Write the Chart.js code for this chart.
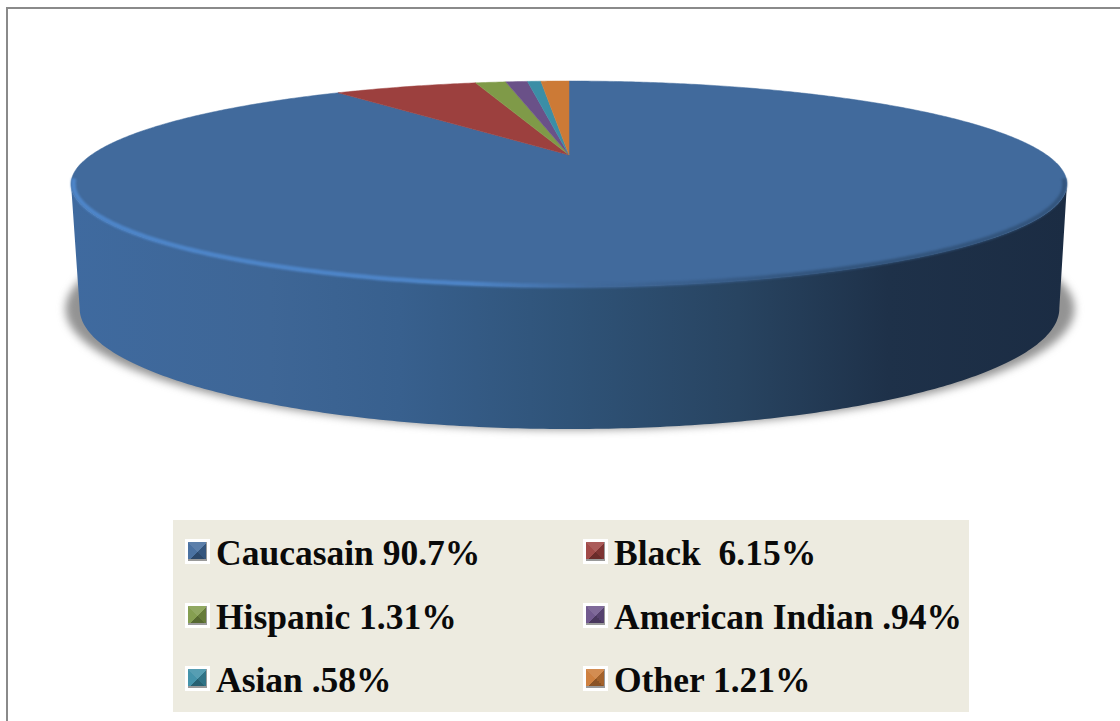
<!DOCTYPE html>
<html>
<head>
<meta charset="utf-8">
<script src="https://cdn.jsdelivr.net/npm/chart.js@4"></script>
<style>
  html, body { margin: 0; padding: 0; background: #fff; overflow: hidden; }
  #wrap { position: relative; width: 1120px; height: 721px; }
  #frame { position: absolute; left: 6px; top: 7px; width: 1114px; height: 714px; border-left: 2px solid #8a8a8a; border-top: 2px solid #8a8a8a; box-sizing: border-box; }
  #pie { position: absolute; left: 0; top: 0; }
  #legend { position: absolute; left: 173px; top: 520px; width: 796px; height: 192px; background: #edebe0; }
  .item { position: absolute; height: 40px; font: bold 35.5px "Liberation Serif", serif; color: #0a0a0a; white-space: pre; line-height: 40px; }
  .item .box { position: absolute; left: 0; top: 6px; width: 25px; height: 25px; box-sizing: border-box; border: 3px solid #fff; background-clip: padding-box; box-shadow: inset -1px -2px 0 #9a9a9a; }
  .item .txt { position: absolute; left: 31px; top: 0; }
</style>
</head>
<body>
<div id="wrap">
  <div id="frame"></div>
  <canvas id="pie" width="1120" height="721"></canvas>
  <div id="legend"></div>
</div>
<script>
// Datos
const categories = ['Caucasain', 'Black', 'Hispanic', 'American Indian', 'Asian', 'Other'];
const values = [90.7, 6.15, 1.31, 0.94, 0.58, 1.21];
const legendLabels = ['Caucasain 90.7%', 'Black  6.15%', 'Hispanic 1.31%', 'American Indian .94%', 'Asian .58%', 'Other 1.21%'];
const colors = ['#416a9c', '#9c403e', '#7f9a48', '#6a5188', '#3b8ea6', '#cc7a36'];

// Perspectiva del disco: p inclina el círculo, la cara de abajo es más abierta
const p = -0.2816;
const topFace = { cx: 569, cy: 155, rx: 477.8, ry: 94.8 };
const baseFace = { cx: 569.5, cy: 274.5, rx: 470, ry: 111 };

function project(face, a) {
    const u = Math.cos(a), v = Math.sin(a), d = 1 + p * v;
    return [face.cx + face.rx * u / d, face.cy + face.ry * v / d];
}

function tracePath(ctx, face, from, to, move) {
    const steps = Math.max(2, Math.ceil(Math.abs(to - from) / 0.01));
    for (let i = 0; i <= steps; i++) {
        const pt = project(face, from + (to - from) * i / steps);
        if (i === 0 && move) ctx.moveTo(pt[0], pt[1]);
        else ctx.lineTo(pt[0], pt[1]);
    }
}

// Ángulo donde la elipse proyectada es más ancha
const sideAngle = Math.asin(-p);

const disc3d = {
    id: 'disc3d',
    beforeDatasetsDraw(chart) {
        const ctx = chart.ctx;
        const arcs = chart.getDatasetMeta(0).data;

        // Sombra
        ctx.save();
        ctx.filter = 'blur(4px)';
        ctx.fillStyle = 'rgba(105,105,105,0.72)';
        ctx.beginPath();
        tracePath(ctx, { cx: 570, cy: 275, rx: 484, ry: 111 }, 0, Math.PI * 2, true);
        ctx.fill();
        ctx.restore();

        // Pared del disco
        const wall = ctx.createLinearGradient(71, 0, 1067, 0);
        wall.addColorStop(0, '#3f6a9f');
        wall.addColorStop(0.2, '#3e6696');
        wall.addColorStop(0.33, '#38608e');
        wall.addColorStop(0.5, '#2f5378');
        wall.addColorStop(0.67, '#284461');
        wall.addColorStop(0.82, '#1e3149');
        wall.addColorStop(1, '#1b2c43');
        ctx.fillStyle = wall;
        ctx.beginPath();
        tracePath(ctx, topFace, sideAngle, Math.PI - sideAngle, true);
        tracePath(ctx, baseFace, Math.PI - sideAngle, sideAngle, false);
        ctx.closePath();
        ctx.fill();

        // Cara superior con los sectores de Chart.js
        arcs.forEach((arc, i) => {
            ctx.fillStyle = colors[i];
            ctx.strokeStyle = colors[i];
            ctx.lineWidth = 0.5;
            ctx.beginPath();
            ctx.moveTo(topFace.cx, topFace.cy);
            tracePath(ctx, topFace, arc.startAngle, arc.endAngle, false);
            ctx.closePath();
            ctx.fill();
            ctx.stroke();
        });

        // Bisel del borde
        const bevel = ctx.createLinearGradient(71, 0, 1067, 0);
        bevel.addColorStop(0, 'rgba(78,134,202,1)');
        bevel.addColorStop(0.4, 'rgba(78,134,202,0.95)');
        bevel.addColorStop(0.52, 'rgba(65,106,156,1)');
        bevel.addColorStop(0.75, 'rgba(48,80,118,0.8)');
        bevel.addColorStop(1, 'rgba(48,80,118,0.8)');
        ctx.save();
        ctx.filter = 'blur(1.2px)';
        ctx.strokeStyle = bevel;
        ctx.lineWidth = 4.5;
        ctx.lineCap = 'butt';
        ctx.beginPath();
        tracePath(ctx, { cx: 569, cy: 155, rx: 475.5, ry: 94 }, sideAngle - 0.05, Math.PI - sideAngle + 0.05, true);
        ctx.stroke();
        ctx.restore();

        return false;
    }
};

const pieChart = new Chart(document.getElementById('pie').getContext('2d'), {
    type: 'pie',
    data: {
        labels: categories,
        datasets: [{ data: values, backgroundColor: colors, borderWidth: 0 }]
    },
    options: {
        responsive: false,
        animation: false,
        plugins: {
            legend: { display: false },
            tooltip: { enabled: false }
        }
    },
    plugins: [disc3d]
});

// Leyenda
const legend = document.getElementById('legend');
legendLabels.forEach((label, i) => {
    const item = document.createElement('div');
    item.className = 'item';
    item.style.left = (i % 2 ? 410 : 12) + 'px';
    item.style.top = (13 + Math.floor(i / 2) * 63.5) + 'px';
    const box = document.createElement('div');
    box.className = 'box';
    box.style.backgroundColor = colors[i];
    box.style.backgroundImage = 'conic-gradient(from -45deg, rgba(255,255,255,.14) 25%, rgba(0,0,0,.2) 25% 50%, rgba(0,0,0,.32) 50% 75%, rgba(255,255,255,.05) 75%)';
    const txt = document.createElement('div');
    txt.className = 'txt';
    txt.textContent = label;
    item.appendChild(box);
    item.appendChild(txt);
    legend.appendChild(item);
});
</script>
</body>
</html>
